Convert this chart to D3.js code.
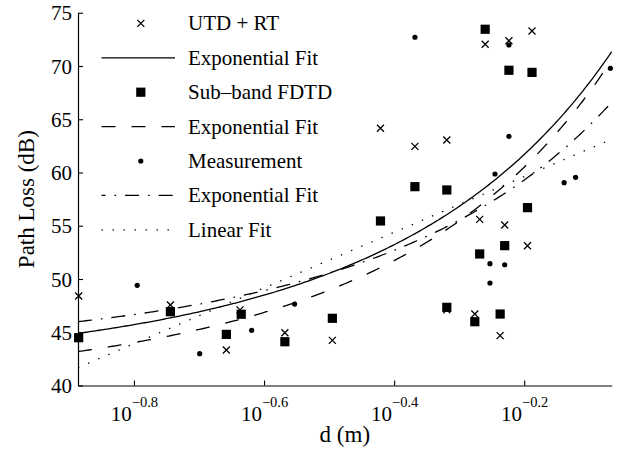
<!DOCTYPE html>
<html>
<head>
<meta charset="utf-8">
<script src="https://cdn.jsdelivr.net/npm/d3@7"></script>
<style>
  body { margin: 0; background: #fff; }
  svg text { font-family: "Times New Roman", "Liberation Serif", Tinos, "DejaVu Serif", serif !important; fill: #000; }
</style>
</head>
<body>
<div id="chart"></div>
<script>
// distances in metres, path loss in dB
const utdD    = [0.1303, 0.1803, 0.2198, 0.2307, 0.2704, 0.3199, 0.3793, 0.4285, 0.4797, 0.4797, 0.5297, 0.5389, 0.5495, 0.5794, 0.5888, 0.5977, 0.6383, 0.6486];
const utdLoss = [48.4, 47.56, 43.33, 47.1, 44.96, 44.24, 64.15, 62.45, 63.05, 47.1, 46.71, 55.6, 72.04, 44.68, 55.07, 72.37, 53.13, 73.29];

const fdtdD    = [0.1303, 0.1803, 0.2198, 0.2317, 0.2704, 0.3199, 0.3793, 0.4285, 0.4797, 0.4797, 0.5297, 0.5389, 0.5495, 0.5794, 0.5888, 0.5977, 0.6383, 0.6486];
const fdtdLoss = [44.49, 46.93, 44.8, 46.69, 44.11, 46.31, 55.45, 58.67, 58.36, 47.34, 45.99, 52.35, 73.45, 46.71, 53.13, 69.6, 56.7, 69.4];

const measD    = [0.1603, 0.2000, 0.2404, 0.2799, 0.4285, 0.5589, 0.5589, 0.5689, 0.5888, 0.5977, 0.5977, 0.7267, 0.7568, 0.8560];
const measLoss = [49.41, 42.99, 45.18, 47.65, 72.7, 51.44, 49.62, 59.86, 51.34, 71.97, 63.4, 59.04, 59.55, 69.78];

// fit coefficients: exponential a*exp(b*d), linear p + q*log10(d)
const utdExp  = [41.34, 0.6345];
const fdtdExp = [39.57, 0.673];
const measExp = [43.06, 0.507];
const measLin = [64.84, 26.14];

const xTicks = [-0.8, -0.6, -0.4, -0.2];
const yTicks = [40, 45, 50, 55, 60, 65, 70, 75];
const legendLabels = ['UTD + RT', 'Exponential Fit', 'Sub\u2013band FDTD', 'Exponential Fit', 'Measurement', 'Exponential Fit', 'Linear Fit'];

const width = 620;
const height = 459;
const padL = 78, padR = 611.7, padT = 12.75, padB = 385.5;

var svg = d3.select('#chart')
  .append('svg')
  .attr('width', width)
  .attr('height', height);

var x = d3.scaleLog().domain([0.13, 0.86]).range([padL, padR]);
var y = d3.scaleLinear().domain([40, 75]).range([padB, padT]);

// axes, ticks pointing inward
var xAxis = svg.append('g')
  .attr('transform', 'translate(0,' + padB + ')')
  .call(d3.axisBottom(x)
    .tickValues(xTicks.map(function(t){ return Math.pow(10, t); }))
    .tickSizeInner(-5)
    .tickSizeOuter(0)
    .tickFormat(''));
xAxis.attr('font-family', null);
xAxis.select('.domain').attr('stroke-width', 1.2);
xAxis.selectAll('.tick line').attr('stroke-width', 1.1);
xAxis.selectAll('.tick').each(function(d, i){
  var t = d3.select(this).append('text')
    .attr('y', 35.5)
    .attr('text-anchor', 'middle')
    .style('font-size', '21px');
  t.append('tspan').text('10');
  t.append('tspan')
    .attr('dy', -14)
    .style('font-size', '14.5px')
    .text('\u2212' + Math.abs(xTicks[i]));
});

var yAxis = svg.append('g')
  .attr('transform', 'translate(' + padL + ',0)')
  .call(d3.axisLeft(y)
    .tickValues(yTicks)
    .tickSizeInner(-5)
    .tickSizeOuter(0)
    .tickPadding(6));
yAxis.attr('font-family', null);
yAxis.select('.domain').attr('stroke-width', 1.2);
yAxis.selectAll('.tick line').attr('stroke-width', 1.1);
yAxis.selectAll('.tick text')
  .style('font-size', '21px')
  .attr('dy', '0.34em');

svg.append('text')
  .attr('x', (padL + padR) / 2)
  .attr('y', 442)
  .attr('text-anchor', 'middle')
  .style('font-size', '23px')
  .text('d (m)');

svg.append('text')
  .attr('transform', 'translate(34,' + ((padT + padB) / 2) + ') rotate(-90)')
  .attr('text-anchor', 'middle')
  .style('font-size', '23px')
  .text('Path Loss (dB)');

// fit curves
var lo = Math.log10(0.13), hi = Math.log10(0.86);
var dSamples = d3.range(0, 201).map(function(i){
  return Math.pow(10, lo + i / 200 * (hi - lo));
});
var line = d3.line()
  .x(function(d){ return x(d[0]); })
  .y(function(d){ return y(d[1]); });

function expCurve(c){
  return dSamples.map(function(d){ return [d, c[0] * Math.exp(c[1] * d)]; });
}

const styles = [
  {dash: null},
  {dash: '14,16'},
  {dash: '14,9,1.6,9'},
  {dash: '1.4,9.6'}
];

var curves = [expCurve(utdExp), expCurve(fdtdExp), expCurve(measExp),
  dSamples.map(function(d){ return [d, measLin[0] + measLin[1] * Math.log10(d)]; })];

svg.selectAll('.fit')
  .data(curves)
  .enter()
  .append('path')
  .attr('class', 'fit')
  .attr('d', line)
  .attr('fill', 'none')
  .attr('stroke', '#000')
  .attr('stroke-width', 1.3)
  .attr('stroke-dasharray', function(d, i){ return styles[i].dash; });

// markers
function cross(g, cx, cy){
  g.append('path')
    .attr('d', 'M' + (cx - 3.5) + ',' + (cy - 3.5) + 'L' + (cx + 3.5) + ',' + (cy + 3.5) +
               'M' + (cx - 3.5) + ',' + (cy + 3.5) + 'L' + (cx + 3.5) + ',' + (cy - 3.5))
    .attr('stroke', '#000')
    .attr('stroke-width', 1.3)
    .attr('fill', 'none');
}

var marks = svg.append('g');
utdD.forEach(function(d, i){ cross(marks, x(d), y(utdLoss[i])); });

marks.selectAll('rect')
  .data(fdtdD)
  .enter()
  .append('rect')
  .attr('x', function(d){ return x(d) - 4.6; })
  .attr('y', function(d, i){ return y(fdtdLoss[i]) - 4.6; })
  .attr('width', 9.2)
  .attr('height', 9.2)
  .attr('fill', '#000');

marks.selectAll('circle')
  .data(measD)
  .enter()
  .append('circle')
  .attr('cx', function(d){ return x(d); })
  .attr('cy', function(d, i){ return y(measLoss[i]); })
  .attr('r', 2.6)
  .attr('fill', '#000');

// legend
var legend = svg.append('g');
var legendStyle = {1: 0, 3: 1, 5: 2, 6: 3};
legendLabels.forEach(function(label, i){
  var cy = 23.4 + 34.4 * i;
  legend.append('text')
    .attr('x', 188)
    .attr('y', cy)
    .attr('dy', '0.33em')
    .style('font-size', '21px')
    .text(label);
  if (i === 0) {
    cross(legend, 140.8, cy);
  } else if (i === 2) {
    legend.append('rect').attr('x', 136.2).attr('y', cy - 4.6).attr('width', 9.2).attr('height', 9.2).attr('fill', '#000');
  } else if (i === 4) {
    legend.append('circle').attr('cx', 140.8).attr('cy', cy).attr('r', 2.6).attr('fill', '#000');
  } else {
    legend.append('line')
      .attr('x1', 101.5).attr('x2', 175)
      .attr('y1', cy).attr('y2', cy)
      .attr('stroke', '#000')
      .attr('stroke-width', 1.3)
      .attr('stroke-dasharray', styles[legendStyle[i]].dash)
      .attr('stroke-dashoffset', i === 5 ? 10 : 0);
  }
});
</script>
</body>
</html>
